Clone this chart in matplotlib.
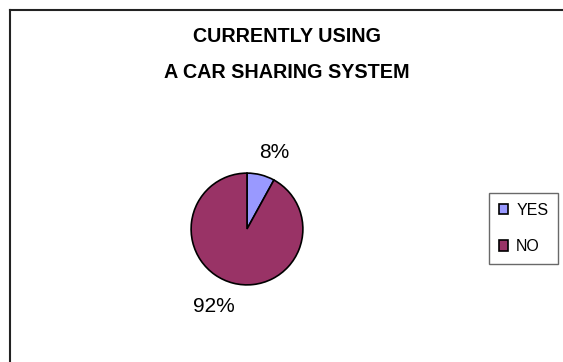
import matplotlib.pyplot as plt
from matplotlib.lines import Line2D

# 数据
labels = ['YES', 'NO']
values = [8, 92]
colors = ['#9999FF', '#993366']
title_lines = ['CURRENTLY USING', 'A CAR SHARING SYSTEM']

W, H = 563, 362
plt.rcParams['font.family'] = ['Liberation Sans', 'DejaVu Sans']

fig = plt.figure(figsize=(W / 100, H / 100), dpi=100)
fig.patch.set_facecolor('white')


def px(x, y):
    # 像素坐标 -> figure 坐标
    return x / W, 1 - y / H


# 边框（左、上）
fig.add_artist(Line2D([9.5 / W, 9.5 / W], [0, 1 - 9.5 / H], color='#222222', lw=1.5,
                      transform=fig.transFigure))
fig.add_artist(Line2D([9.5 / W, 1], [1 - 9.5 / H, 1 - 9.5 / H], color='#222222', lw=1.5,
                      transform=fig.transFigure))

# 标题
fig.text(*px(287, 36), title_lines[0], ha='center', va='center', fontsize=14.2,
         fontweight='bold')
fig.text(*px(287, 73), title_lines[1], ha='center', va='center', fontsize=14.2,
         fontweight='bold')

# 饼图
cx, cy, r = 247, 229, 57
ax = fig.add_axes([(cx - r) / W, (H - cy - r) / H, 2 * r / W, 2 * r / H])
wedges, _ = ax.pie(values, colors=colors, startangle=90, counterclock=False,
                   wedgeprops=dict(edgecolor='black', linewidth=1.2))
ax.set_xlim(-1.02, 1.02)
ax.set_ylim(-1.02, 1.02)
ax.axis('off')

# 百分比标签
fig.text(*px(274, 153), f'{values[0]}%', ha='center', va='center', fontsize=15)
fig.text(*px(214, 306), f'{values[1]}%', ha='center', va='center', fontsize=15)

# 图例
leg = fig.legend(wedges, labels, loc='upper left', bbox_to_anchor=px(489, 193),
                 fontsize=11.5, frameon=True, fancybox=False, handlelength=0.6,
                 handleheight=0.6, handletextpad=0.5, labelspacing=1.35,
                 borderpad=0.6, borderaxespad=0)
leg.get_frame().set_edgecolor('#444444')
leg.get_frame().set_linewidth(1.0)

fig.savefig('out.png', dpi=100, facecolor='white')
